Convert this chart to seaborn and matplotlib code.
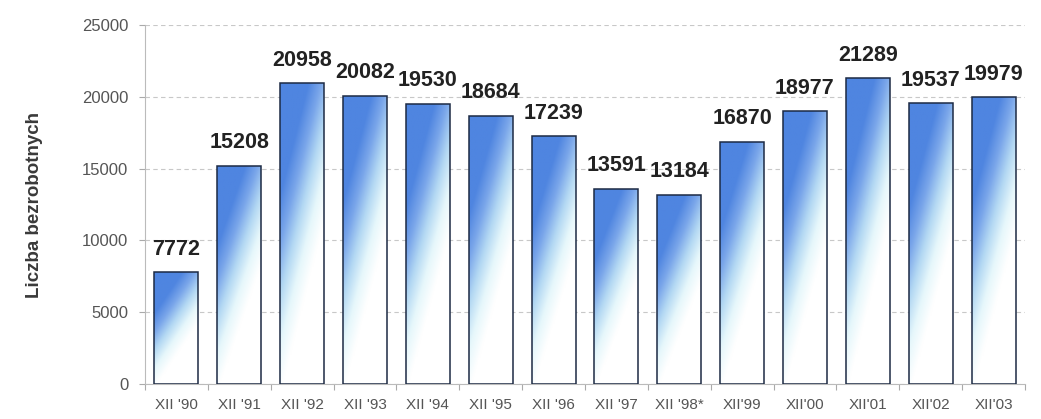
import numpy as np
import pandas as pd
import seaborn as sns
import matplotlib.pyplot as plt
from matplotlib.colors import LinearSegmentedColormap

# dane: liczba bezrobotnych w grudniu kolejnych lat
months = ["XII '90", "XII '91", "XII '92", "XII '93", "XII '94", "XII '95", "XII '96",
          "XII '97", "XII '98*", "XII'99", "XII'00", "XII'01", "XII'02", "XII'03"]
unemployed = [7772, 15208, 20958, 20082, 19530, 18684, 17239,
              13591, 13184, 16870, 18977, 21289, 19537, 19979]
y_ticks = [0, 5000, 10000, 15000, 20000, 25000]

df = pd.DataFrame({"okres": months, "bezrobotni": unemployed})

sns.set_style("white")
plt.rcParams['font.family'] = ['Liberation Sans', 'DejaVu Sans']

fig = plt.figure(figsize=(10.41, 4.19), dpi=100)
ax = fig.add_axes([145 / 1041, 1 - 384 / 419, 880 / 1041, 359 / 419])

sns.barplot(data=df, x="okres", y="bezrobotni", ax=ax, color="white",
            width=0.7, edgecolor="#1c2a44", linewidth=1.1, zorder=3)

# gradient: niebieski w lewym górnym rogu, biały w dolnej części
cmap = LinearSegmentedColormap.from_list(
    "bars", ["#ffffff", "#e6f7fb", "#b3d8f3", "#7aa6ea", "#4f85e0"])
nx, ny = 40, 200
u = np.linspace(0, 1, nx)[None, :]
s = np.linspace(0, 1, ny)[:, None]
grad = np.clip(1.5 * s + 0.05 - 0.85 * u, 0, 1)

for p in ax.patches:
    p.set_facecolor("none")
    x0, w, h = p.get_x(), p.get_width(), p.get_height()
    im = ax.imshow(grad, cmap=cmap, vmin=0, vmax=1, origin="lower",
                   extent=(x0, x0 + w, 0, h), aspect="auto", zorder=2.5,
                   interpolation="bilinear")
    im.set_clip_path(p)

ax.set_xlim(-0.5, len(months) - 0.5)
ax.set_ylim(0, 25000)

# etykiety wartości
for i, v in enumerate(unemployed):
    ax.annotate(f"{v}", (i, v), xytext=(0, 9), textcoords="offset points",
                ha="center", va="bottom", fontsize=15.5, fontweight="bold",
                color="#222222", zorder=5)

ax.set_yticks(y_ticks)
ax.set_yticklabels([str(t) for t in y_ticks])
ax.yaxis.grid(True, color="#c8c8c8", linestyle=(0, (4, 3)), linewidth=0.8, zorder=0)
ax.set_axisbelow(True)

ax.set_xlabel("")
ax.set_ylabel("Liczba bezrobotnych", fontsize=13.5, fontweight="bold",
              color="#3a3a3a", labelpad=28)

ax.tick_params(axis="y", which="major", direction="out", length=4, width=0.8,
               color="#aaaaaa", labelsize=12, labelcolor="#555555", pad=8, left=True)
ax.tick_params(axis="x", which="major", length=0, labelsize=11,
               labelcolor="#555555", pad=10)
ax.set_xticks(np.arange(-0.5, len(months), 1.0), minor=True)
ax.tick_params(axis="x", which="minor", direction="out", length=4, width=0.8,
               color="#aaaaaa", bottom=True)

for side in ["top", "right"]:
    ax.spines[side].set_visible(False)
for side in ["left", "bottom"]:
    ax.spines[side].set_color("#bbbbbb")
    ax.spines[side].set_linewidth(0.8)

fig.savefig("out.png", dpi=100)
